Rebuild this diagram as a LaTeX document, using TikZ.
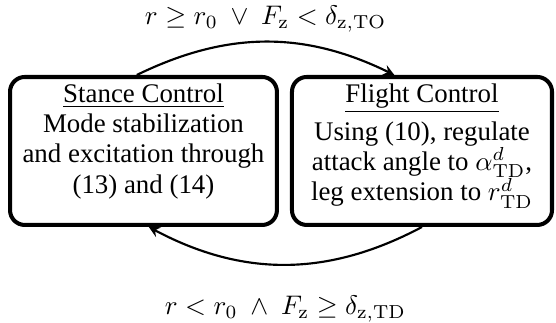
\documentclass[tikz,border=0pt]{standalone}
\usepackage[no-math]{fontspec}
\setmainfont{Liberation Serif}
\usetikzlibrary{positioning}

\begin{document}
\begin{tikzpicture}
\tikzstyle{phase}=[rectangle, rounded corners=5.5pt, line width=1.5pt, draw=black, align=center, minimum height=1.935cm, inner sep=2pt, font={\fontsize{10}{11.3}\selectfont\lineskiplimit=-3pt}]
\tikzstyle{switch}=[-stealth, thick]
    \useasboundingbox (0,0) rectangle (7.27,-4.223);
    \node[phase, minimum width=3.49cm] (stance) at (1.876,-1.974) {\underline{Stance Control}\\ Mode stabilization\\ and excitation through\\ (13) and (14)\\[-2pt]\mbox{}};
    \node[phase, minimum width=3.40cm] (flight) [right=0.144cm of stance] {\underline{Flight Control}\\[2.8pt] Using (10), regulate\\ attack angle to $\alpha^d_\mathrm{TD}$,\\ leg extension to $r^d_\mathrm{TD}$\\[-4.8pt]\mbox{}};
    \path (stance.95) edge [switch, bend left=26] node[above] {$r \geq r_0 \ \vee\ F_\mathrm{z} < \delta_{\mathrm{z},\mathrm{TO}}$} (flight.110)
          (flight.-90) edge [switch, bend left=28] node[below=8pt] {$r < r_0 \ \wedge\ F_\mathrm{z} \geq \delta_{\mathrm{z},\mathrm{TD}}$} (stance.-86);
\end{tikzpicture}
\end{document}
